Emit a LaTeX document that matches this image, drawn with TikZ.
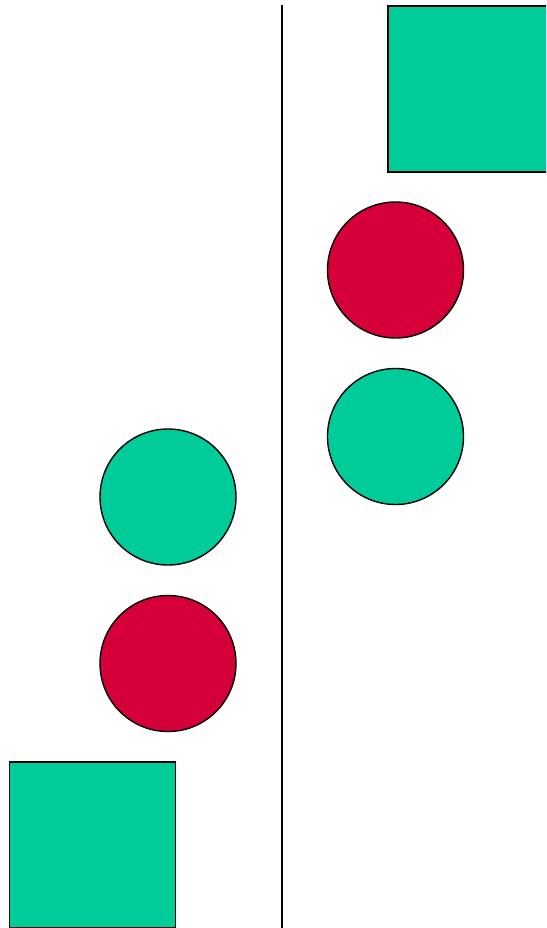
\documentclass[tikz,border=0pt]{standalone}
\usepackage{tikz}
\usetikzlibrary{positioning}
\definecolor{jade}{HTML}{00CC99}
\definecolor{crimson}{HTML}{D40037}

\begin{document}
\begin{tikzpicture}[x=1pt,y=-1pt,
    disc/.style={circle,draw=black,line width=1.4pt,minimum size=136pt,inner sep=0pt,outer sep=0pt},
    block/.style={rectangle,draw=black,line width=1.6pt,minimum size=166pt,inner sep=0pt,outer sep=0pt,fill=jade}]
  \useasboundingbox (0,0) rectangle (546,928);
  \clip (0,0) rectangle (546,928);
  % divider
  \coordinate (divtop) at (282,5);
  \coordinate (divbot) at (282,930);
  \draw[line width=1.6pt] (divtop) -- (divbot);
  % right side
  \node[block] (sqright) at (471,89) {};
  \node[disc,fill=crimson] (redright) at (395.5,270) {};
  \node[disc,fill=jade] (greenright) at (395.5,436.5) {};
  % left side
  \node[disc,fill=jade] (greenleft) at (168,497) {};
  \node[disc,fill=crimson] (redleft) at (168,663.5) {};
  \node[block] (sqleft) at (92.5,845) {};
\end{tikzpicture}
\end{document}
